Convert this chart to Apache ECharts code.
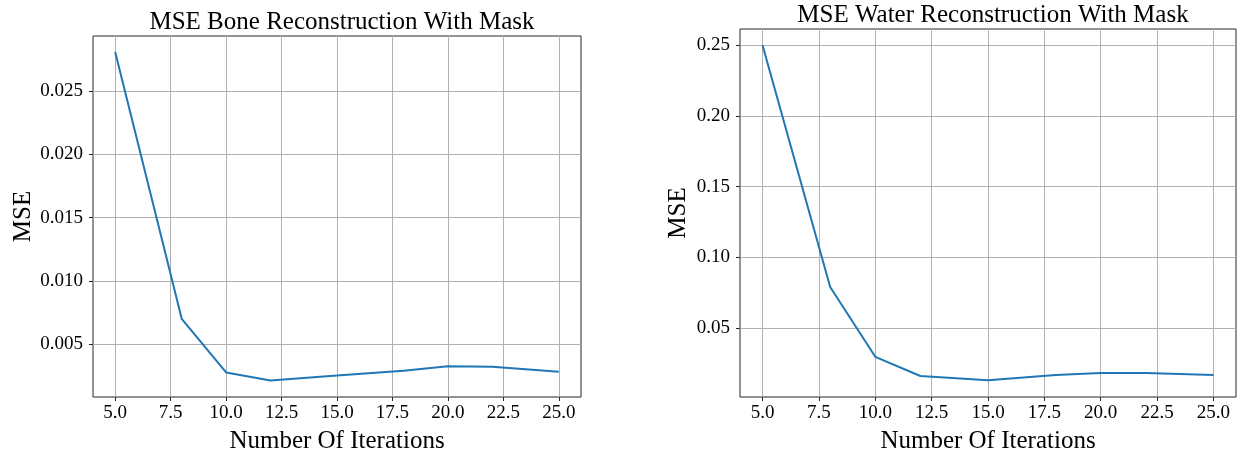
<!DOCTYPE html>
<html>
<head>
<meta charset="utf-8">
<title>MSE Reconstruction With Mask</title>
<script src="https://cdn.jsdelivr.net/npm/echarts@6/dist/echarts.min.js"></script>
<style>
  html, body { margin: 0; padding: 0; background: #ffffff; }
  #chart { width: 1245px; height: 459px; }
</style>
</head>
<body>
<div id="chart"></div>
<script>
// Iteration counts and the MSE measured at each one
const iterations = [5, 8, 10, 12, 15, 18, 20, 22, 25];
const boneMse = [0.0281, 0.0070, 0.00276, 0.00213, 0.00253, 0.0029, 0.00326, 0.00321, 0.00282];
const waterMse = [0.25, 0.0789, 0.0295, 0.0159, 0.0130, 0.0166, 0.0180, 0.0180, 0.0166];

// Tick positions
const xTicks = [5, 7.5, 10, 12.5, 15, 17.5, 20, 22.5, 25];
const boneTicks = [0.005, 0.010, 0.015, 0.020, 0.025];
const waterTicks = [0.05, 0.10, 0.15, 0.20, 0.25];

const titles = ['MSE Bone Reconstruction With Mask', 'MSE Water Reconstruction With Mask'];

const FONT = '"Liberation Serif", "DejaVu Serif", serif';
const LINE = '#1f77b4';
const GRIDLINE = '#b0b0b0';
const FRAME = '#262626';

function pairs(xs, ys) { return xs.map((x, i) => [x, ys[i]]); }

function xAxisFor(gridIndex) {
  return {
    type: 'value', gridIndex: gridIndex, min: 4, max: 26,
    name: 'Number Of Iterations', nameLocation: 'middle', nameGap: 32,
    nameTextStyle: { fontFamily: FONT, fontSize: 25, color: '#000' },
    axisLine: { show: false },
    axisTick: { show: true, inside: false, length: 4, customValues: xTicks,
                lineStyle: { color: FRAME, width: 1 } },
    axisLabel: { customValues: xTicks, margin: 7, fontFamily: FONT, fontSize: 19, color: '#000',
                 formatter: v => v.toFixed(1) },
    splitLine: { show: true, lineStyle: { color: GRIDLINE, width: 1 } }
  };
}

function yAxisFor(gridIndex, min, max, ticks, digits, gap) {
  return {
    type: 'value', gridIndex: gridIndex, min: min, max: max,
    name: 'MSE', nameLocation: 'middle', nameGap: gap, nameRotate: 90,
    nameTextStyle: { fontFamily: FONT, fontSize: 25, color: '#000' },
    axisLine: { show: false },
    axisTick: { show: true, inside: false, length: 4, customValues: ticks,
                lineStyle: { color: FRAME, width: 1 } },
    axisLabel: { customValues: ticks, margin: 10, fontFamily: FONT, fontSize: 19, color: '#000',
                 formatter: v => v.toFixed(digits) },
    splitLine: { show: true, lineStyle: { color: GRIDLINE, width: 1 } }
  };
}

const chart = echarts.init(document.getElementById('chart'), null, { renderer: 'canvas' });

chart.setOption({
  animation: false,
  backgroundColor: '#ffffff',
  title: [
    { text: titles[0], left: 337, top: 5, textAlign: 'center',
      textStyle: { fontFamily: FONT, fontSize: 25, fontWeight: 'normal', color: '#000' } },
    { text: titles[1], left: 988, top: -2, textAlign: 'center',
      textStyle: { fontFamily: FONT, fontSize: 25, fontWeight: 'normal', color: '#000' } }
  ],
  grid: [
    { left: 93, top: 36, width: 488, height: 364, show: true,
      borderColor: FRAME, borderWidth: 1, backgroundColor: 'transparent' },
    { left: 740, top: 29, width: 496, height: 370, show: true,
      borderColor: FRAME, borderWidth: 1, backgroundColor: 'transparent' }
  ],
  xAxis: [xAxisFor(0), xAxisFor(1)],
  yAxis: [
    yAxisFor(0, 0.00082, 0.02937, boneTicks, 3, 46),
    yAxisFor(1, 0.00106, 0.26157, waterTicks, 2, 49)
  ],
  series: [
    { type: 'line', xAxisIndex: 0, yAxisIndex: 0, data: pairs(iterations, boneMse),
      showSymbol: false, lineStyle: { color: LINE, width: 2 }, z: 5 },
    { type: 'line', xAxisIndex: 1, yAxisIndex: 1, data: pairs(iterations, waterMse),
      showSymbol: false, lineStyle: { color: LINE, width: 2 }, z: 5 }
  ]
});
</script>
</body>
</html>
